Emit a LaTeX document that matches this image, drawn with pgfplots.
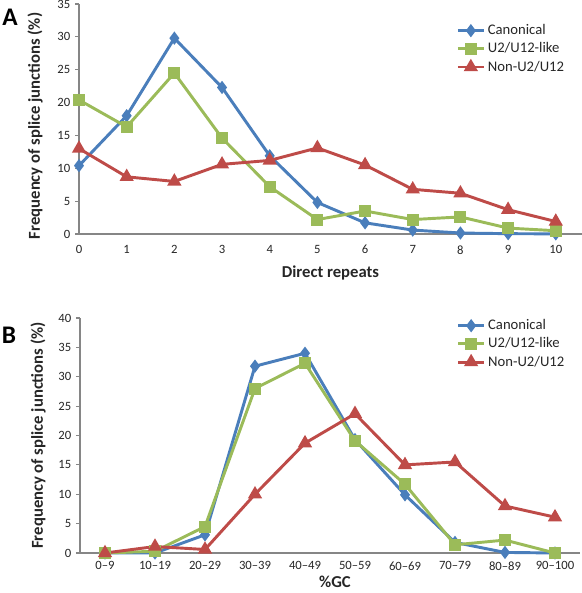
\documentclass[border=0pt]{standalone}
\usepackage{fontspec}
\setmainfont{Carlito}
\usepackage{pgfplots}
\pgfplotsset{compat=1.18}
\definecolor{cblue}{HTML}{4A7EBB}
\definecolor{cgreen}{HTML}{9BBB59}
\definecolor{cred}{HTML}{BE4B48}
\definecolor{axgray}{HTML}{868686}
\definecolor{txt}{HTML}{262626}
\pgfplotsset{
  mystyle/.style={
    scale only axis,
    axis x line=bottom, axis y line=left,
    axis line style={draw=axgray, line width=0.8pt, -},
    y axis line style={-},
    x axis line style={-},
    ytick style={draw=axgray, line width=0.8pt},
    xtick style={draw=none},
    tick align=outside,
    major tick length=3pt,
    tick label style={font=\fontsize{9.5}{10}\selectfont, text=txt},
    /pgf/number format/assume math mode=true,
    label style={font=\bfseries\fontsize{12.5}{14}\selectfont, text=txt},
    legend cell align=left,
    legend style={draw=none, fill=none, font=\fontsize{11}{12}\selectfont, text=txt, row sep=0.5pt, anchor=north west},
    legend image code/.code={\draw[mark repeat=2,mark phase=2] plot coordinates {(0cm,0cm)(0.34cm,0cm)(0.68cm,0cm)};},
    every axis plot/.append style={line width=2.2pt},
    clip=false,
  },
  canon/.style={color=cblue, mark=diamond*, mark size=3.2pt, mark options={solid}},
  u2/.style={color=cgreen, mark=square*, mark size=3.4pt},
  nonu/.style={color=cred, mark=triangle*, mark size=4pt},
}
\begin{document}
\begin{tikzpicture}
\useasboundingbox (0,0) rectangle (436.5pt,-444.75pt);
\node[font=\bfseries\fontsize{19}{20}\selectfont] at (7.5pt,-12.75pt) {A};
\node[font=\bfseries\fontsize{19}{20}\selectfont] at (6.75pt,-251.25pt) {B};
\begin{axis}[mystyle,
  at={(59.25pt,-175.5pt)}, anchor=south west,
  width=377.25pt, height=172.5pt,
  xticklabel shift=2pt,
  xmin=0, xmax=10.55, ymin=0, ymax=35,
  xtick={0,...,10}, ytick={0,5,...,35},
  xlabel={Direct repeats}, ylabel={Frequency of splice junctions (\%)},
  xlabel style={at={(axis description cs:0.5,-0.168)}, anchor=center},
  ylabel style={at={(axis description cs:-0.0875,0.47)}, anchor=center},
  legend style={at={(axis description cs:0.742,0.935)}},
]
\addplot[canon] coordinates {(0,10.4)(1,18.0)(2,29.8)(3,22.3)(4,11.9)(5,4.8)(6,1.7)(7,0.6)(8,0.15)(9,0.05)(10,0.02)};
\addplot[u2] coordinates {(0,20.4)(1,16.3)(2,24.5)(3,14.6)(4,7.2)(5,2.2)(6,3.5)(7,2.2)(8,2.6)(9,0.9)(10,0.5)};
\addplot[nonu] coordinates {(0,13.0)(1,8.7)(2,8.0)(3,10.6)(4,11.2)(5,13.1)(6,10.5)(7,6.8)(8,6.2)(9,3.7)(10,1.9)};
\legend{Canonical,U2/U12-like,Non-U2/U12}
\end{axis}
\begin{axis}[mystyle,
  at={(60pt,-414.75pt)}, anchor=south west,
  width=375pt, height=176.25pt,
  xmin=-0.5, xmax=9.5, ymin=0, ymax=40,
  xtick={0,...,9}, ytick={0,5,...,40},
  xticklabels={0--9,10--19,20--29,30--39,40--49,50--59,60--69,70--79,80--89,90--100},
  xlabel={\%GC}, ylabel={Frequency of splice junctions (\%)},
  xlabel style={at={(axis description cs:0.51,-0.124)}, anchor=center, inner sep=1pt},
  ylabel style={at={(axis description cs:-0.084,0.5)}, anchor=center},
  legend style={at={(axis description cs:0.745,1.017)}},
]
\addplot[canon] coordinates {(0,0)(1,0)(2,3.1)(3,31.8)(4,34.0)(5,19.3)(6,9.9)(7,1.8)(8,0.1)(9,0)};
\addplot[u2] coordinates {(0,0)(1,0.3)(2,4.5)(3,28.0)(4,32.3)(5,19.1)(6,11.7)(7,1.4)(8,2.2)(9,0)};
\addplot[nonu] coordinates {(0,0)(1,1.1)(2,0.6)(3,10.0)(4,18.7)(5,23.7)(6,15.0)(7,15.5)(8,8.0)(9,6.1)};
\legend{Canonical,U2/U12-like,Non-U2/U12}
\end{axis}
\end{tikzpicture}
\end{document}
